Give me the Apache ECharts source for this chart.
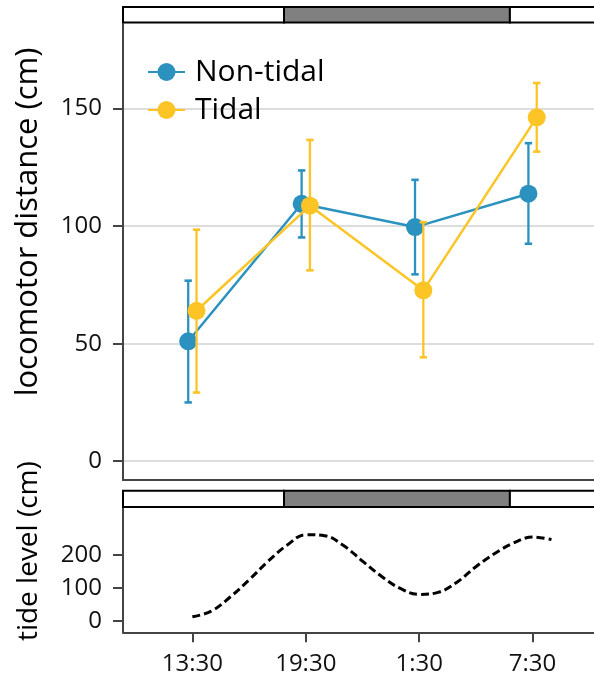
<!DOCTYPE html>
<html>
<head>
<meta charset="utf-8">
<script src="https://cdn.jsdelivr.net/npm/echarts@6/dist/echarts.min.js"></script>
<style>
html,body{margin:0;padding:0;background:#fff;}
#chart{width:594px;height:684px;}
</style>
</head>
<body>
<div id="chart"></div>
<script>
// ---- data ----
const timeLabels = ['13:30', '19:30', '1:30', '7:30'];
const timeHours = [13.5, 19.5, 25.5, 31.5];
const nonTidalMean = [51, 109.5, 99.6, 113.8];
const nonTidalLow = [25, 95.2, 79.5, 92.5];
const nonTidalHigh = [76.8, 123.7, 119.7, 135.3];
const tidalMean = [64, 108.7, 72.7, 146.3];
const tidalLow = [29.2, 81.2, 44.2, 131.7];
const tidalHigh = [98.5, 136.7, 101.7, 160.9];
const tideHours = [13.5, 14.5, 15.5, 16.5, 17.5, 18.5, 19.5, 20.5, 21.5, 22.5, 23.5, 24.5, 25.5, 26.5, 27.5, 28.5, 29.5, 30.5, 31.5, 32.5];
const tideLevel = [12, 29, 72, 124, 180, 229, 261, 258, 228, 181, 135, 98, 80, 86, 117, 164, 204, 236, 254, 246];
const darkStart = 18.35;
const darkEnd = 30.3;
const locoTicks = [0, 50, 100, 150];
const tideTicks = [0, 100, 200];

// ---- layout / style ----
const X_MIN = 9.83, X_MAX = 34.75;
const DODGE = 0.22;
const BLUE = '#2b92c0';
const YELLOW = '#fdc426';
const AXIS = '#444444';
const FONT = 'Open Sans';

const periods = [
  [X_MIN, darkStart, 0],
  [darkStart, darkEnd, 1],
  [darkEnd, X_MAX + 1, 0]
];

function barRender(params, api) {
  const a = api.coord([api.value(0), 1]);
  const b = api.coord([api.value(1), 0]);
  return {
    type: 'rect',
    shape: { x: a[0], y: a[1], width: b[0] - a[0], height: b[1] - a[1] },
    style: { fill: api.value(2) ? '#808080' : '#ffffff', stroke: '#000', lineWidth: 2 }
  };
}

function errRender(color) {
  return function (params, api) {
    const x = api.value(0);
    const top = api.coord([x, api.value(2)]);
    const bot = api.coord([x, api.value(1)]);
    const hw = 3.7;
    return {
      type: 'group',
      children: [
        { type: 'line', shape: { x1: top[0], y1: top[1], x2: bot[0], y2: bot[1] }, style: { stroke: color, lineWidth: 2.3 } },
        { type: 'line', shape: { x1: top[0] - hw, y1: top[1], x2: top[0] + hw, y2: top[1] }, style: { stroke: color, lineWidth: 2.6 } },
        { type: 'line', shape: { x1: bot[0] - hw, y1: bot[1], x2: bot[0] + hw, y2: bot[1] }, style: { stroke: color, lineWidth: 2.6 } }
      ]
    };
  };
}

const errNon = timeHours.map((h, i) => [h - DODGE, nonTidalLow[i], nonTidalHigh[i]]);
const errTid = timeHours.map((h, i) => [h + DODGE, tidalLow[i], tidalHigh[i]]);
const ptsNon = timeHours.map((h, i) => [h - DODGE, nonTidalMean[i]]);
const ptsTid = timeHours.map((h, i) => [h + DODGE, tidalMean[i]]);
const tideData = tideHours.map((h, i) => [h, tideLevel[i]]);

const labelFmt = v => {
  const i = timeHours.indexOf(v);
  return i >= 0 ? timeLabels[i] : '';
};

const gridL = 123, gridW = 471;
const gridBase = { left: gridL, width: gridW, outerBoundsMode: 'none', containLabel: false };
const chart = echarts.init(document.getElementById('chart'), null, { renderer: 'canvas' });
chart.setOption({
  animation: false,
  textStyle: { fontFamily: FONT },
  grid: [
    Object.assign({ top: 7, height: 15.5 }, gridBase),
    Object.assign({ top: 24, height: 456 }, gridBase),
    Object.assign({ top: 490.7, height: 16.3 }, gridBase),
    Object.assign({ top: 508, height: 124.3 }, gridBase)
  ],
  xAxis: [
    { gridIndex: 0, type: 'value', min: X_MIN, max: X_MAX, show: false },
    { gridIndex: 1, type: 'value', min: X_MIN, max: X_MAX, axisLine: { show: true, onZero: false, lineStyle: { color: AXIS, width: 2 } }, axisTick: { show: false }, axisLabel: { show: false }, splitLine: { show: false } },
    { gridIndex: 2, type: 'value', min: X_MIN, max: X_MAX, show: false },
    { gridIndex: 3, type: 'value', min: X_MIN, max: X_MAX,
      axisLine: { show: true, onZero: false, lineStyle: { color: AXIS, width: 2 } },
      axisTick: { show: true, length: 10, customValues: timeHours, lineStyle: { color: AXIS, width: 2 } },
      axisLabel: { show: true, customValues: timeHours, formatter: labelFmt, fontSize: 24, color: '#111', margin: 20, fontFamily: FONT },
      splitLine: { show: false } }
  ],
  yAxis: [
    { gridIndex: 0, type: 'value', min: 0, max: 1, show: false },
    { gridIndex: 1, type: 'value', min: -8, max: 186,
      name: 'locomotor distance (cm)', nameLocation: 'middle', nameGap: 79,
      nameTextStyle: { fontSize: 31, color: '#000', fontFamily: FONT, padding: [0, 0, 0, 60] },
      axisLine: { show: true, onZero: false, lineStyle: { color: AXIS, width: 2 } },
      axisTick: { show: true, length: 10, customValues: locoTicks, lineStyle: { color: AXIS, width: 2 } },
      axisLabel: { show: true, customValues: locoTicks, fontSize: 24, color: '#111', margin: 21, fontFamily: FONT },
      splitLine: { show: true, lineStyle: { color: '#dddddd', width: 2 } } },
    { gridIndex: 2, type: 'value', min: 0, max: 1, show: false },
    { gridIndex: 3, type: 'value', min: -35, max: 342,
      name: 'tide level (cm)', nameLocation: 'middle', nameGap: 80,
      nameTextStyle: { fontSize: 28, color: '#000', fontFamily: FONT, padding: [0, 0, 0, 38] },
      axisLine: { show: true, onZero: false, lineStyle: { color: AXIS, width: 2 } },
      axisTick: { show: true, length: 10, customValues: tideTicks, lineStyle: { color: AXIS, width: 2 } },
      axisLabel: { show: true, customValues: tideTicks, fontSize: 24, color: '#111', margin: 21, fontFamily: FONT },
      splitLine: { show: false } }
  ],
  legend: {
    data: ['Non-tidal', 'Tidal'],
    orient: 'vertical',
    left: 142, top: 52,
    itemWidth: 37, itemHeight: 22.5, itemGap: 8,
    textStyle: { fontSize: 30, color: '#000', fontFamily: FONT, padding: [0, 0, 0, 5] }
  },
  series: [
    { type: 'custom', xAxisIndex: 0, yAxisIndex: 0, renderItem: barRender, data: periods, silent: true, clip: false, z: 1 },
    { type: 'custom', xAxisIndex: 2, yAxisIndex: 2, renderItem: barRender, data: periods, silent: true, clip: false, z: 1 },
    { type: 'custom', name: 'errNon', xAxisIndex: 1, yAxisIndex: 1, renderItem: errRender(BLUE), data: errNon, encode: { x: 0, y: [1, 2] }, z: 2 },
    { type: 'line', name: 'Non-tidal', xAxisIndex: 1, yAxisIndex: 1, data: ptsNon, symbol: 'circle', symbolSize: 18,
      itemStyle: { color: BLUE }, lineStyle: { color: BLUE, width: 2.5 }, z: 3 },
    { type: 'custom', name: 'errTid', xAxisIndex: 1, yAxisIndex: 1, renderItem: errRender(YELLOW), data: errTid, encode: { x: 0, y: [1, 2] }, z: 4 },
    { type: 'line', name: 'Tidal', xAxisIndex: 1, yAxisIndex: 1, data: ptsTid, symbol: 'circle', symbolSize: 18,
      itemStyle: { color: YELLOW }, lineStyle: { color: YELLOW, width: 2.5 }, z: 5 },
    { type: 'line', name: 'tide', xAxisIndex: 3, yAxisIndex: 3, data: tideData, smooth: 0.4, symbol: 'none',
      lineStyle: { color: '#000', width: 3, type: [8, 4] }, z: 3 }
  ]
});
</script>
</body>
</html>
